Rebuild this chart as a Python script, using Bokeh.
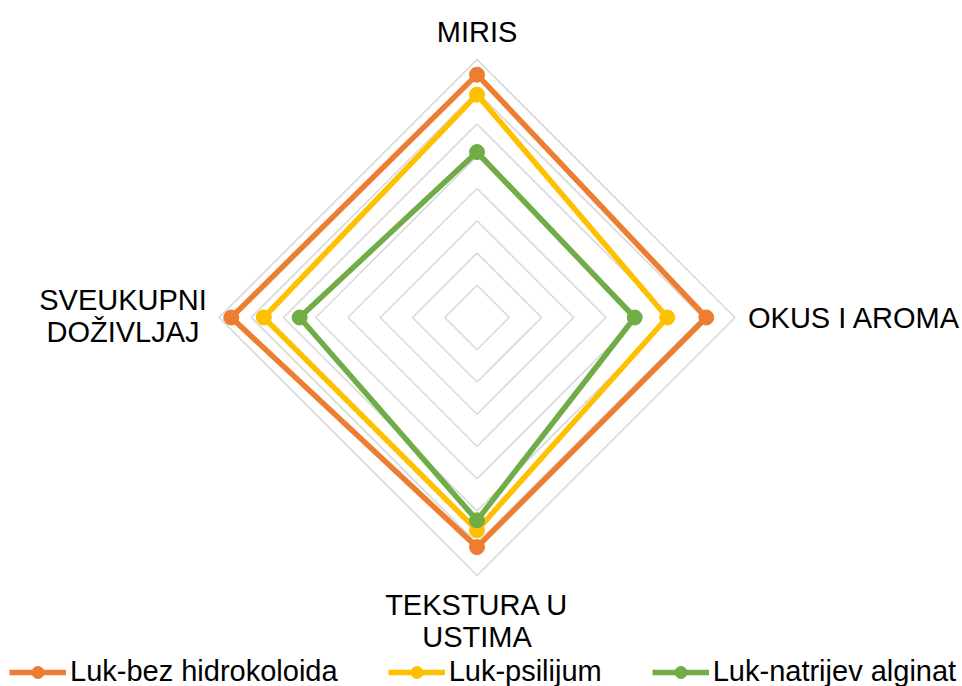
import math
from bokeh.plotting import figure
from bokeh.models import Range1d, Legend, LegendItem
from bokeh.core.properties import value
from bokeh.embed import file_html
from bokeh.resources import INLINE

# ---- data ----
categories = ["MIRIS", "OKUS I AROMA", "TEKSTURA U USTIMA", "SVEUKUPNI DOŽIVLJAJ"]
category_lines = [["MIRIS"], ["OKUS I AROMA"], ["TEKSTURA U", "USTIMA"], ["SVEUKUPNI", "DOŽIVLJAJ"]]
series_names = ["Luk-bez hidrokoloida", "Luk-psilijum", "Luk-natrijev alginat"]
bez_hidrokoloida = [7.53, 7.11, 7.12, 7.62]
psilijum = [6.91, 5.90, 6.60, 6.61]
natrijev_alginat = [5.13, 4.89, 6.29, 5.50]
grid_levels = [1, 2, 3, 4, 5, 6, 7, 8]
max_level = 8

series_values = [bez_hidrokoloida, psilijum, natrijev_alginat]
colors = ["#ED7D31", "#FFC000", "#70AD47"]

W, H = 962, 686
unit = 32.25
cx, cy = 476.5, 317.0  # centre in frame pixels (from top-left)

p = figure(width=W, height=H, output_backend="svg", toolbar_location=None,
           x_range=Range1d(-cx / unit, (W - cx) / unit),
           y_range=Range1d(-(H - cy) / unit, cy / unit),
           min_border=0, outline_line_color=None)
p.axis.visible = False
p.grid.visible = False
p.background_fill_color = "white"
p.border_fill_color = "white"

n = len(categories)
angles = [math.pi / 2 - 2 * math.pi * i / n for i in range(n)]

# grid rings
gx, gy = [], []
for lv in grid_levels:
    xs = [lv * math.cos(a) for a in angles]
    ys = [lv * math.sin(a) for a in angles]
    gx.append(xs + [xs[0]])
    gy.append(ys + [ys[0]])
p.multi_line(gx, gy, line_color="#D9D9D9", line_width=1.6)

# series
items = []
for name, vals, col in zip(series_names, series_values, colors):
    xs = [v * math.cos(a) for v, a in zip(vals, angles)]
    ys = [v * math.sin(a) for v, a in zip(vals, angles)]
    lr = p.line(xs + [xs[0]], ys + [ys[0]], line_color=col, line_width=5.5, line_join="round")
    sr = p.scatter(xs, ys, marker="circle", size=15, fill_color=col, line_color=col)
    items.append(LegendItem(label=name, renderers=[lr, sr]))

# category labels
label_font = value("Liberation Sans")
offsets = {
    0: dict(align="center", dx=0, dy=[-28]),
    1: dict(align="left", dx=13, dy=[0]),
    2: dict(align="center", dx=0, dy=[29, 61]),
    3: dict(align="center", dx=-96, dy=[-18, 14]),
}
for i, lines in enumerate(category_lines):
    ex = max_level * math.cos(angles[i])
    ey = max_level * math.sin(angles[i])
    o = offsets[i]
    for ln, dy in zip(lines, o["dy"]):
        p.text(x=[ex], y=[ey], text=[ln], text_align=o["align"], text_baseline="alphabetic",
               x_offset=o["dx"], y_offset=dy, text_font=label_font,
               text_font_size="29px", text_color="black")

legend = Legend(items=items, orientation="horizontal", location=(9, -2),
                glyph_width=57, glyph_height=30, label_standoff=4, spacing=50,
                padding=0, margin=0, border_line_color=None, background_fill_alpha=0,
                label_text_font="Liberation Sans", label_text_font_size="29px",
                label_text_color="black")
p.add_layout(legend)

open("out.html", "w").write(file_html(p, INLINE))
